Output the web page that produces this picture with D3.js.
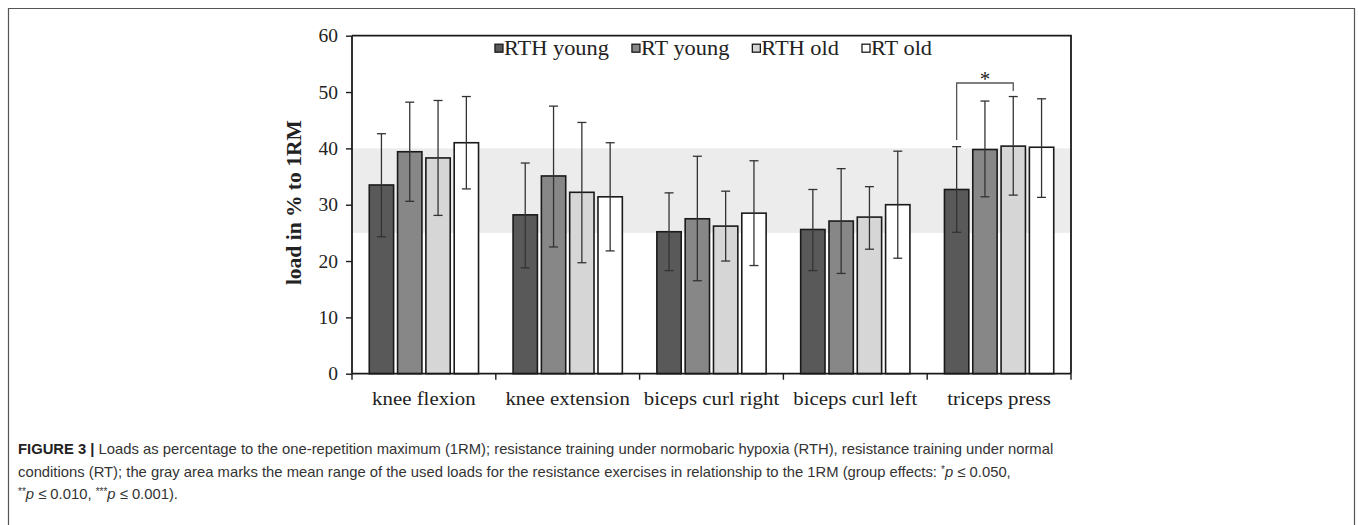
<!DOCTYPE html>
<html>
<head>
<meta charset="utf-8">
<script src="https://cdn.jsdelivr.net/npm/d3@7"></script>
<style>
  html, body { margin: 0; padding: 0; background: #fff; }
  svg { display: block; }
  .caption { font-family: "Liberation Sans", Arial, sans-serif; font-size: 14.8px; fill: #333; }
</style>
</head>
<body>
<div id="chart"></div>
<script>
const categories = ['knee flexion', 'knee extension', 'biceps curl right', 'biceps curl left', 'triceps press'];
const series = ['RTH young', 'RT young', 'RTH old', 'RT old'];
const colors = ['#595959', '#878787', '#d6d6d6', '#ffffff'];
// mean load per exercise (rows) and group (columns)
const means = [
  [33.5, 39.4, 38.3, 41.0],
  [28.2, 35.1, 32.2, 31.4],
  [25.2, 27.5, 26.2, 28.5],
  [25.6, 27.1, 27.8, 30.0],
  [32.7, 39.8, 40.4, 40.2]
];
const errHigh = [
  [42.6, 48.2, 48.5, 49.2],
  [37.4, 47.5, 44.6, 41.0],
  [32.1, 38.6, 32.4, 37.8],
  [32.7, 36.4, 33.2, 39.5],
  [40.3, 48.4, 49.2, 48.8]
];
const errLow = [
  [24.3, 30.6, 28.1, 32.8],
  [18.8, 22.5, 19.7, 21.8],
  [18.3, 16.5, 20.0, 19.2],
  [18.3, 17.8, 22.1, 20.5],
  [25.1, 31.4, 31.7, 31.3]
];
const yTicks = [0, 10, 20, 30, 40, 50, 60];
const grayRange = [25, 40];
const significance = [{ cat: 4, from: 0, to: 2, label: '*' }];

const W = 1358, H = 525;
const margin = { top: 35.7, left: 352, right: 287, bottom: 151.3 };
const plotW = W - margin.left - margin.right;
const plotH = H - margin.top - margin.bottom;
const serif = '"Liberation Serif", "Times New Roman", serif';

const svg = d3.select('#chart').append('svg')
  .attr('width', W)
  .attr('height', H);

// outer frame
svg.append('path')
  .attr('d', `M8.5,${H + 2}V8.5H1354.5V${H + 2}`)
  .attr('fill', 'none')
  .attr('stroke', '#555')
  .attr('stroke-width', 1.2);

const g = svg.append('g').attr('transform', `translate(${margin.left},${margin.top})`);

const x0 = d3.scaleBand().domain(categories).range([0, plotW]).padding(0);
const x1 = d3.scaleBand().domain(series).range([0, x0.bandwidth()]).paddingInner(0.14).paddingOuter(0.61);
const y = d3.scaleLinear().domain([0, 60]).range([plotH, 0]);

// gray range of used loads
g.append('rect')
  .attr('x', 0)
  .attr('y', y(grayRange[1]))
  .attr('width', plotW)
  .attr('height', y(grayRange[0]) - y(grayRange[1]))
  .attr('fill', '#ececec');

// bars
const groups = g.selectAll('.grp')
  .data(categories)
  .enter()
  .append('g')
  .attr('class', 'grp')
  .attr('transform', d => `translate(${x0(d)},0)`);

groups.each((c, ci, n) => {
  const grp = d3.select(n[ci]);
  const rows = series.map((s, si) => ({ s, si, v: means[ci][si], hi: errHigh[ci][si], lo: errLow[ci][si] }));

  grp.selectAll('rect')
    .data(rows)
    .enter()
    .append('rect')
    .attr('x', d => x1(d.s))
    .attr('y', d => y(d.v))
    .attr('width', x1.bandwidth())
    .attr('height', d => y(0) - y(d.v))
    .attr('fill', d => colors[d.si])
    .attr('stroke', '#1a1a1a')
    .attr('stroke-width', 1.6);

  const eb = grp.selectAll('.err')
    .data(rows)
    .enter()
    .append('g')
    .attr('class', 'err')
    .attr('stroke', '#333')
    .attr('stroke-width', 1.3);
  const cx = d => x1(d.s) + x1.bandwidth() / 2;
  eb.append('line')
    .attr('x1', cx).attr('x2', cx)
    .attr('y1', d => y(d.hi)).attr('y2', d => y(d.lo));
  eb.append('line')
    .attr('x1', d => cx(d) - 4.5).attr('x2', d => cx(d) + 4.5)
    .attr('y1', d => y(d.hi)).attr('y2', d => y(d.hi));
  eb.append('line')
    .attr('x1', d => cx(d) - 4.5).attr('x2', d => cx(d) + 4.5)
    .attr('y1', d => y(d.lo)).attr('y2', d => y(d.lo));
});

// significance brackets
significance.forEach(sig => {
  const cat = categories[sig.cat];
  const xa = x0(cat) + x1(series[sig.from]) + x1.bandwidth() / 2;
  const xb = x0(cat) + x1(series[sig.to]) + x1.bandwidth() / 2;
  const ya = y(errHigh[sig.cat][sig.from] + 1.2);
  const yb = y(errHigh[sig.cat][sig.to] + 1.0);
  const yTop = y(Math.max(errHigh[sig.cat][sig.from], errHigh[sig.cat][sig.to]) + 2.4);
  g.append('path')
    .attr('d', `M${xa},${ya}V${yTop}H${xb}V${yb}`)
    .attr('fill', 'none')
    .attr('stroke', '#555')
    .attr('stroke-width', 1.3);
  g.append('text')
    .attr('x', (xa + xb) / 2)
    .attr('y', yTop + 3)
    .attr('text-anchor', 'middle')
    .style('font-family', serif)
    .style('font-size', '21px')
    .style('fill', '#222')
    .text(sig.label);
});

// axes
const yAxis = g.append('g')
  .call(d3.axisLeft(y).tickValues(yTicks).tickSize(6).tickPadding(8));
const xAxis = g.append('g')
  .attr('transform', `translate(0,${plotH})`)
  .call(d3.axisBottom(x0).tickSize(0).tickPadding(17));

[yAxis, xAxis].forEach(a => {
  a.select('.domain').attr('stroke', '#1a1a1a').attr('stroke-width', 1.8);
  a.selectAll('.tick line').attr('stroke', '#1a1a1a').attr('stroke-width', 1.4);
  a.selectAll('text')
    .style('font-family', serif)
    .style('font-size', '19.5px')
    .style('fill', '#222');
});
// source lettering is a little wider than Liberation Serif
xAxis.selectAll('.tick text').attr('transform', 'scale(1.07,1)');
yAxis.select('.domain').attr('d', `M0,0V${plotH}`);
xAxis.select('.domain').attr('d', `M0,0H${plotW}`);

// category boundary ticks on x axis
g.selectAll('.xsep')
  .data(categories.concat(['end']))
  .enter()
  .append('line')
  .attr('x1', (d, i) => i < categories.length ? x0(d) : plotW)
  .attr('x2', (d, i) => i < categories.length ? x0(d) : plotW)
  .attr('y1', plotH)
  .attr('y2', plotH + 6)
  .attr('stroke', '#1a1a1a')
  .attr('stroke-width', 1.4);

// top and right frame of plot
g.append('path')
  .attr('d', `M0,0H${plotW}V${plotH}`)
  .attr('fill', 'none')
  .attr('stroke', '#1a1a1a')
  .attr('stroke-width', 1.8);

// y title
g.append('text')
  .attr('transform', `translate(-51,${y(30) - 2}) rotate(-90)`)
  .attr('text-anchor', 'middle')
  .style('font-family', serif)
  .style('font-size', '21.5px')
  .style('font-weight', 'bold')
  .style('fill', '#222')
  .text('load in % to 1RM');

// legend
const legend = g.append('g');
const stretch = 1.12;
let lx = 0;
series.forEach((s, i) => {
  const it = legend.append('g').attr('transform', `translate(${lx},0)`);
  it.append('rect')
    .attr('x', 0).attr('y', -4.5)
    .attr('width', 8).attr('height', 8)
    .attr('fill', colors[i])
    .attr('stroke', '#1a1a1a')
    .attr('stroke-width', 1.3);
  const t = it.append('text')
    .attr('transform', `translate(9,6) scale(${stretch},1)`)
    .style('font-family', serif)
    .style('font-size', '20px')
    .style('fill', '#222')
    .text(s);
  lx += 9 + t.node().getComputedTextLength() * stretch + 23;
});
const legendW = lx - 23;
legend.attr('transform', `translate(${(plotW - legendW) / 2 + 2},13)`);

// caption
const capLines = [
  [{ t: 'FIGURE 3 | ', b: true }, { t: 'Loads as percentage to the one-repetition maximum (1RM); resistance training under normobaric hypoxia (RTH), resistance training under normal' }],
  [{ t: 'conditions (RT); the gray area marks the mean range of the used loads for the resistance exercises in relationship to the 1RM (group effects: ' }, { t: '*', sup: true }, { t: 'p', i: true }, { t: ' ≤ 0.050,' }],
  [{ t: '**', sup: true }, { t: 'p', i: true }, { t: ' ≤ 0.010, ' }, { t: '***', sup: true }, { t: 'p', i: true }, { t: ' ≤ 0.001).' }]
];
const capY = [454, 476.5, 499];
capLines.forEach((line, li) => {
  const txt = svg.append('text').attr('class', 'caption').attr('x', 18).attr('y', capY[li]);
  let prevSup = false;
  line.forEach(p => {
    const ts = txt.append('tspan').text(p.t);
    if (p.b) ts.style('font-weight', 'bold').style('fill', '#222');
    if (p.i) ts.style('font-style', 'italic');
    if (p.sup) ts.style('font-size', '10px').attr('dy', -4);
    else if (prevSup) ts.attr('dy', 4);
    prevSup = !!p.sup;
  });
});
</script>
</body>
</html>
